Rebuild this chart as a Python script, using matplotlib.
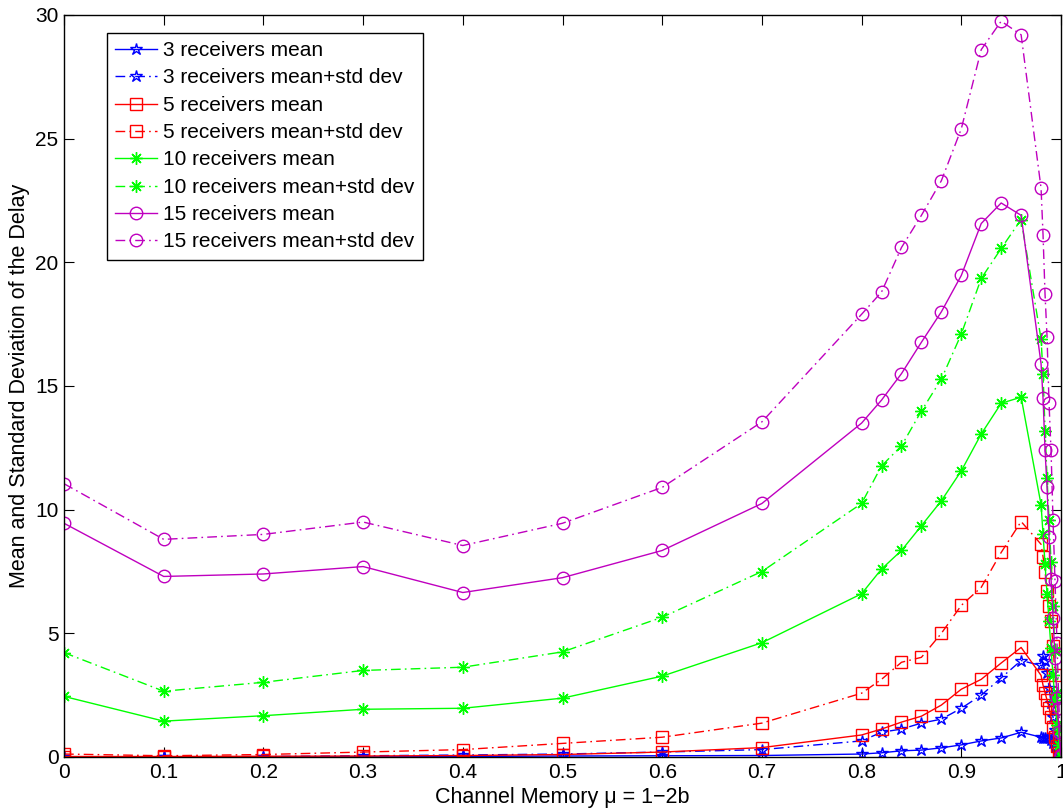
import matplotlib
matplotlib.use("Agg")
import matplotlib.pyplot as plt
from matplotlib.ticker import FixedLocator

# ---- data ----
x = [0, 0.1, 0.2, 0.3, 0.4, 0.5, 0.6, 0.7, 0.8, 0.82, 0.84, 0.86, 0.88, 0.9,
     0.92, 0.94, 0.96, 0.98, 0.982, 0.984, 0.986, 0.988, 0.99, 0.992, 0.994,
     0.996, 0.998, 1.0]

r3_mean = [0.0, 0.0, 0.0, 0.0, 0.02, 0.04, 0.05, 0.06, 0.12, 0.17, 0.25, 0.28,
           0.37, 0.49, 0.65, 0.77, 1.0,
           0.8, 0.78, 0.77, 0.76, 0.75, 0.7, 0.55, 0.4, 0.25, 0.1, 0.0]
r3_std = [0.0, 0.0, 0.02, 0.05, 0.08, 0.12, 0.2, 0.3, 0.65, 1.0, 1.13, 1.37,
          1.53, 1.97, 2.5, 3.2, 3.9,
          3.7, 4.1, 3.9, 3.4, 2.8, 2.2, 1.6, 1.1, 0.6, 0.2, 0.0]
r5_mean = [0.02, 0.02, 0.03, 0.04, 0.06, 0.1, 0.2, 0.38, 0.89, 1.13, 1.41, 1.65,
           2.1, 2.74, 3.14, 3.8, 4.43,
           3.3, 2.9, 2.6, 2.3, 2.0, 1.6, 1.2, 0.8, 0.45, 0.15, 0.0]
r5_std = [0.12, 0.05, 0.1, 0.2, 0.3, 0.55, 0.8, 1.37, 2.58, 3.14, 3.83, 4.03,
          5.0, 6.13, 6.86, 8.27, 9.52,
          8.6, 8.1, 7.5, 6.7, 6.1, 5.5, 4.5, 3.3, 2.0, 0.8, 0.05]
r10_mean = [2.45, 1.45, 1.67, 1.93, 1.97, 2.38, 3.27, 4.62, 6.6, 7.6, 8.35, 9.35,
            10.36, 11.57, 13.06, 14.3, 14.55,
            10.2, 9.0, 7.8, 6.6, 5.5, 4.4, 3.3, 2.3, 1.3, 0.5, 0.02]
r10_std = [4.22, 2.66, 3.02, 3.5, 3.63, 4.25, 5.65, 7.5, 10.25, 11.77, 12.58,
           13.99, 15.28, 17.1, 19.35, 20.56, 21.73,
           16.9, 15.5, 13.2, 11.3, 9.6, 7.9, 6.1, 4.3, 2.6, 1.1, 0.05]
r15_mean = [9.45, 7.3, 7.4, 7.7, 6.65, 7.25, 8.35, 10.25, 13.5, 14.43, 15.5,
            16.77, 18.0, 19.47, 21.57, 22.4, 21.9,
            15.9, 14.5, 12.4, 10.9, 8.9, 7.2, 5.6, 4.0, 2.4, 1.0, 0.05]
r15_std = [11.05, 8.8, 9.0, 9.5, 8.55, 9.45, 10.9, 13.55, 17.9, 18.8, 20.6,
           21.9, 23.3, 25.4, 28.6, 29.75, 29.2,
           23.0, 21.1, 18.7, 17.0, 14.3, 12.4, 9.6, 7.1, 4.6, 2.0, 0.1]

labels = ["3 receivers mean", "3 receivers mean+std dev",
          "5 receivers mean", "5 receivers mean+std dev",
          "10 receivers mean", "10 receivers mean+std dev",
          "15 receivers mean", "15 receivers mean+std dev"]

xticks = [0, 0.1, 0.2, 0.3, 0.4, 0.5, 0.6, 0.7, 0.8, 0.9, 1]
xticklabels = ["0", "0.1", "0.2", "0.3", "0.4", "0.5", "0.6", "0.7", "0.8", "0.9", "1"]
yticks = [0, 5, 10, 15, 20, 25, 30]

# ---- style ----
plt.rcParams['font.family'] = ['Liberation Sans', 'DejaVu Sans']
plt.rcParams['font.size'] = 15

fig = plt.figure(figsize=(10.63, 8.09), dpi=100)
ax = fig.add_axes([64 / 1063, 1 - 757 / 809, (1061 - 64) / 1063, (757 - 15) / 809])

dashdot = (0, (7, 3, 1.2, 3))
mag = '#BF00BF'
series = [
    (r3_mean, 'blue', '-', '*', 9),
    (r3_std, 'blue', dashdot, '*', 9),
    (r5_mean, 'red', '-', 's', 8),
    (r5_std, 'red', dashdot, 's', 8),
    (r10_mean, '#00FF00', '-', (8, 2, 0), 9),
    (r10_std, '#00FF00', dashdot, (8, 2, 0), 9),
    (r15_mean, mag, '-', 'o', 9),
    (r15_std, mag, dashdot, 'o', 9),
]
for (y, c, ls, m, ms), lab in zip(series, labels):
    ax.plot(x, y, color=c, linestyle=ls, marker=m, markersize=ms,
            markerfacecolor='none', markeredgecolor=c, markeredgewidth=1.0,
            linewidth=1.0, label=lab)

ax.set_xlim(0, 1)
ax.set_ylim(0, 30)
ax.xaxis.set_major_locator(FixedLocator(xticks))
ax.set_xticklabels(xticklabels)
ax.yaxis.set_major_locator(FixedLocator(yticks))
ax.tick_params(direction='in', length=7, width=0.8, top=True, right=True,
               labelsize=15, pad=4)
for s in ax.spines.values():
    s.set_linewidth(1.0)

ax.set_xlabel("Channel Memory \u03bc = 1\u22122b", fontsize=15.5, labelpad=4)
ax.set_ylabel("Mean and Standard Deviation of the Delay", fontsize=15.5, labelpad=4)

leg = ax.legend(loc='upper left', bbox_to_anchor=(0.043, 0.976), fancybox=False,
                edgecolor='black', framealpha=1, fontsize=15, handlelength=2.0,
                handletextpad=0.3, labelspacing=0.4, borderpad=0.4,
                borderaxespad=0)
leg.get_frame().set_linewidth(1.0)

fig.savefig("out.png", dpi=100)
